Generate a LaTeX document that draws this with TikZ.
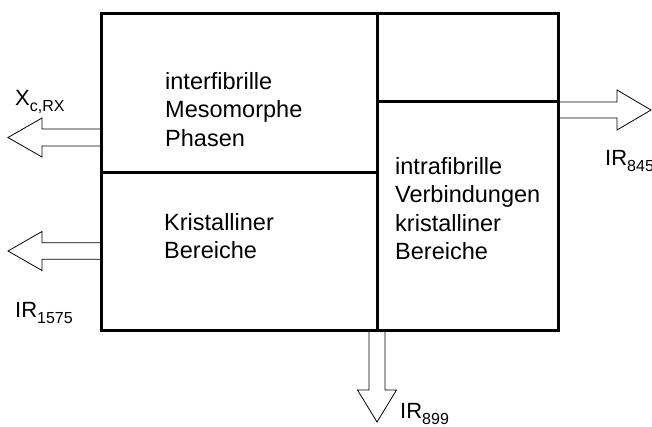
\documentclass[tikz,border=0pt]{standalone}
\usepackage{fontspec}
\setmainfont{Liberation Sans}
% lowered subscript for the signal labels
\newcommand\lowsub[1]{\raisebox{-6pt}{\fontsize{16}{18}\selectfont #1}}
\begin{document}
\begin{tikzpicture}[x=1pt,y=-1pt,
  frame/.style={line width=3pt, line join=miter},
  blockarrow/.style={draw=black, line width=0.8pt, fill=white, line join=miter},
  cell/.style={anchor=base west, inner sep=0pt, font=\fontsize{23.5}{28.6}\selectfont},
  tag/.style={anchor=base west, inner sep=0pt, font=\fontsize{22}{26}\selectfont}]
\useasboundingbox (0,0) rectangle (652,426);

% corners and dividers of the block
\coordinate (NW) at (101,13);
\coordinate (NE) at (558,13);
\coordinate (SE) at (558,330);
\coordinate (SW) at (101,330);
\coordinate (MT) at (377,13);
\coordinate (MB) at (377,330);
\coordinate (LM) at (101,172);
\coordinate (CM) at (377,172);
\coordinate (CR) at (377,101.5);
\coordinate (RR) at (558,101.5);

% roots of the outgoing block arrows
\coordinate (a1) at (101,137.5);
\coordinate (a2) at (101,251);
\coordinate (a3) at (558,110);
\coordinate (a4) at (377,330);

% outgoing block arrows
\draw[blockarrow] (a1) ++(0,-8.5) -- ++(-59,0) -- ++(0,-11) -- ++(-34,19.5)
  -- ++(34,19.5) -- ++(0,-11) -- ++(59,0);
\draw[blockarrow] (a2) ++(0,-8.25) -- ++(-59,0) -- ++(0,-11.25) -- ++(-34,19.5)
  -- ++(34,19.5) -- ++(0,-11.25) -- ++(59,0);
\draw[blockarrow] (a3) ++(0,-8) -- ++(59,0) -- ++(0,-12) -- ++(34,20)
  -- ++(-34,20) -- ++(0,-12) -- ++(-59,0);
\draw[blockarrow] (a4) ++(-8,0) -- ++(0,60) -- ++(-11.5,0) -- ++(19.5,32)
  -- ++(19.5,-32) -- ++(-11.5,0) -- ++(0,-60);

% the block and its compartments
\draw[frame] (NW) rectangle (SE);
\draw[frame] (MT) -- (MB);
\draw[frame] (LM) -- (CM);
\draw[frame] (CR) -- (RR);

% compartment texts
\node[cell] (inter) at (165,89)
  {\begin{tabular}[t]{@{}l@{}}interfibrille\\Mesomorphe\\Phasen\end{tabular}};
\node[cell] (krist) at (164,230)
  {\begin{tabular}[t]{@{}l@{}}Kristalliner\\Bereiche\end{tabular}};
\node[cell] (intra) at (395,174)
  {\begin{tabular}[t]{@{}l@{}}intrafibrille\\Verbindungen\\kristalliner\\Bereiche\end{tabular}};

% signal labels
\node[tag] (xc) at (15,105) {X\lowsub{c,RX}};
\node[tag] (ir1575) at (15,317) {IR\lowsub{1575}};
\node[tag] (ir845) at (605,165) {IR\lowsub{845}};
\node[tag] (ir899) at (400,418) {IR\lowsub{899}};
\end{tikzpicture}
\end{document}
